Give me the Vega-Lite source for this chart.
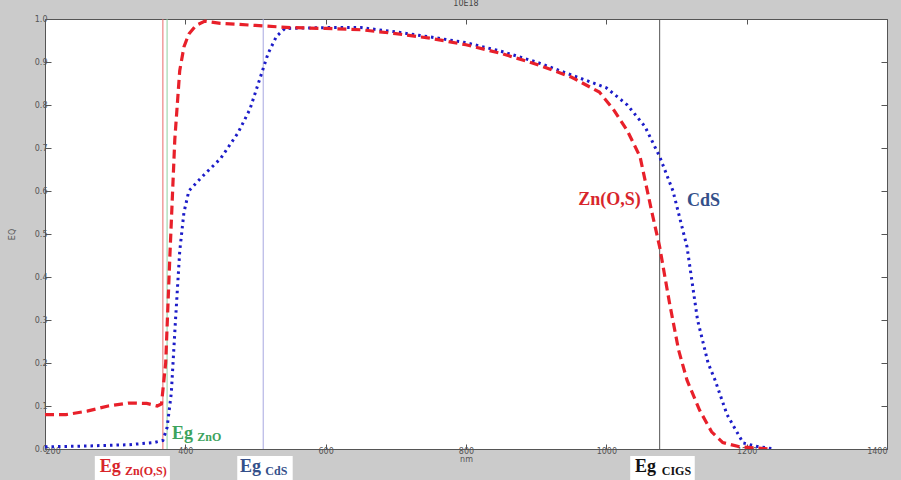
{
  "$schema": "https://vega.github.io/schema/vega-lite/v6.json",
  "width": 842,
  "height": 430,
  "autosize": {"type": "none"},
  "padding": {"left": 45, "top": 19, "right": 14, "bottom": 31},
  "background": "#cbcbcb",
  "title": {"text": "10E18", "fontSize": 8, "fontWeight": "normal", "color": "#444", "font": "DejaVu Sans", "offset": 7},
  "config": {
    "view": {"fill": "white", "stroke": null},
    "axis": {"labelFont": "DejaVu Sans", "labelFontSize": 8, "labelColor": "#555", "domainColor": "#555", "tickColor": "#555", "grid": false, "titleFont": "DejaVu Sans", "titleFontSize": 8, "titleFontWeight": "normal", "titleColor": "#555"}
  },
  "datasets": {
    "curves": [
      {"s": "ZnOS", "nm": 200, "eq": 0.08},
      {"s": "ZnOS", "nm": 230, "eq": 0.08},
      {"s": "ZnOS", "nm": 260, "eq": 0.088},
      {"s": "ZnOS", "nm": 290, "eq": 0.1},
      {"s": "ZnOS", "nm": 320, "eq": 0.107},
      {"s": "ZnOS", "nm": 345, "eq": 0.106},
      {"s": "ZnOS", "nm": 360, "eq": 0.1},
      {"s": "ZnOS", "nm": 366, "eq": 0.105},
      {"s": "ZnOS", "nm": 372, "eq": 0.2},
      {"s": "ZnOS", "nm": 378, "eq": 0.45},
      {"s": "ZnOS", "nm": 385, "eq": 0.72},
      {"s": "ZnOS", "nm": 392, "eq": 0.88},
      {"s": "ZnOS", "nm": 398, "eq": 0.935},
      {"s": "ZnOS", "nm": 405, "eq": 0.965},
      {"s": "ZnOS", "nm": 415, "eq": 0.985},
      {"s": "ZnOS", "nm": 428, "eq": 0.995},
      {"s": "ZnOS", "nm": 450, "eq": 0.99},
      {"s": "ZnOS", "nm": 500, "eq": 0.985},
      {"s": "ZnOS", "nm": 550, "eq": 0.98},
      {"s": "ZnOS", "nm": 600, "eq": 0.978},
      {"s": "ZnOS", "nm": 650, "eq": 0.975},
      {"s": "ZnOS", "nm": 700, "eq": 0.966},
      {"s": "ZnOS", "nm": 750, "eq": 0.955},
      {"s": "ZnOS", "nm": 800, "eq": 0.94},
      {"s": "ZnOS", "nm": 850, "eq": 0.92},
      {"s": "ZnOS", "nm": 900, "eq": 0.895},
      {"s": "ZnOS", "nm": 950, "eq": 0.865},
      {"s": "ZnOS", "nm": 990, "eq": 0.83},
      {"s": "ZnOS", "nm": 1010, "eq": 0.79},
      {"s": "ZnOS", "nm": 1030, "eq": 0.74},
      {"s": "ZnOS", "nm": 1048, "eq": 0.68},
      {"s": "ZnOS", "nm": 1065, "eq": 0.55},
      {"s": "ZnOS", "nm": 1076, "eq": 0.47},
      {"s": "ZnOS", "nm": 1090, "eq": 0.34},
      {"s": "ZnOS", "nm": 1103, "eq": 0.23},
      {"s": "ZnOS", "nm": 1115, "eq": 0.16},
      {"s": "ZnOS", "nm": 1133, "eq": 0.09},
      {"s": "ZnOS", "nm": 1150, "eq": 0.04},
      {"s": "ZnOS", "nm": 1166, "eq": 0.015},
      {"s": "ZnOS", "nm": 1190, "eq": 0.005},
      {"s": "ZnOS", "nm": 1233, "eq": 0.0},
      {"s": "CdS", "nm": 200, "eq": 0.005},
      {"s": "CdS", "nm": 260, "eq": 0.007},
      {"s": "CdS", "nm": 320, "eq": 0.01},
      {"s": "CdS", "nm": 355, "eq": 0.015},
      {"s": "CdS", "nm": 368, "eq": 0.02},
      {"s": "CdS", "nm": 374, "eq": 0.05},
      {"s": "CdS", "nm": 380, "eq": 0.13},
      {"s": "CdS", "nm": 386, "eq": 0.3},
      {"s": "CdS", "nm": 392, "eq": 0.46},
      {"s": "CdS", "nm": 398, "eq": 0.55},
      {"s": "CdS", "nm": 405, "eq": 0.6},
      {"s": "CdS", "nm": 425, "eq": 0.635},
      {"s": "CdS", "nm": 450, "eq": 0.675},
      {"s": "CdS", "nm": 475, "eq": 0.735},
      {"s": "CdS", "nm": 492, "eq": 0.79},
      {"s": "CdS", "nm": 506, "eq": 0.86},
      {"s": "CdS", "nm": 518, "eq": 0.92},
      {"s": "CdS", "nm": 530, "eq": 0.96},
      {"s": "CdS", "nm": 542, "eq": 0.978},
      {"s": "CdS", "nm": 600, "eq": 0.98},
      {"s": "CdS", "nm": 650, "eq": 0.98},
      {"s": "CdS", "nm": 700, "eq": 0.97},
      {"s": "CdS", "nm": 750, "eq": 0.958},
      {"s": "CdS", "nm": 800, "eq": 0.945},
      {"s": "CdS", "nm": 850, "eq": 0.925},
      {"s": "CdS", "nm": 900, "eq": 0.9},
      {"s": "CdS", "nm": 950, "eq": 0.87},
      {"s": "CdS", "nm": 1000, "eq": 0.84},
      {"s": "CdS", "nm": 1030, "eq": 0.8},
      {"s": "CdS", "nm": 1055, "eq": 0.75},
      {"s": "CdS", "nm": 1076, "eq": 0.68},
      {"s": "CdS", "nm": 1095, "eq": 0.6},
      {"s": "CdS", "nm": 1115, "eq": 0.47},
      {"s": "CdS", "nm": 1130, "eq": 0.3},
      {"s": "CdS", "nm": 1145, "eq": 0.2},
      {"s": "CdS", "nm": 1155, "eq": 0.16},
      {"s": "CdS", "nm": 1172, "eq": 0.08},
      {"s": "CdS", "nm": 1195, "eq": 0.014},
      {"s": "CdS", "nm": 1215, "eq": 0.006},
      {"s": "CdS", "nm": 1240, "eq": 0.0}
    ],
    "vlines": [
      {"nm": 368, "line": "ZnOS line"},
      {"nm": 374, "line": "ZnO line"},
      {"nm": 511, "line": "CdS line"},
      {"nm": 1076, "line": "CIGS line"}
    ],
    "boxes": [
      {"x1": 271, "x2": 378, "y1": -0.016, "y2": -0.075},
      {"x1": 474, "x2": 553, "y1": -0.016, "y2": -0.075},
      {"x1": 1034, "x2": 1126, "y1": -0.016, "y2": -0.075}
    ],
    "big": [
      {"nm": 278, "eq": -0.042, "t": "Eg", "c": "ZnOS text"},
      {"nm": 478, "eq": -0.042, "t": "Eg", "c": "CdS text"},
      {"nm": 1041, "eq": -0.042, "t": "Eg", "c": "CIGS text"},
      {"nm": 381, "eq": 0.036, "t": "Eg", "c": "ZnO text"},
      {"nm": 960, "eq": 0.579, "t": "Zn(O,S)", "c": "ZnOS text"},
      {"nm": 1115, "eq": 0.577, "t": "CdS", "c": "CdS text"}
    ],
    "small": [
      {"nm": 314, "eq": -0.051, "t": "Zn(O,S)", "c": "ZnOS text"},
      {"nm": 514, "eq": -0.051, "t": "CdS", "c": "CdS text"},
      {"nm": 1079, "eq": -0.051, "t": "CIGS", "c": "CIGS text"},
      {"nm": 417, "eq": 0.027, "t": "ZnO", "c": "ZnO text"}
    ]
  },
  "layer": [
    {
      "data": {"name": "vlines"},
      "mark": {"type": "rule", "strokeWidth": 1},
      "encoding": {
        "x": {"field": "nm", "type": "quantitative", "scale": {"domain": [200, 1400], "nice": false, "zero": false},
              "axis": {"title": "nm", "values": [200, 400, 600, 800, 1000, 1200, 1400], "tickSize": -5, "labelPadding": 3, "titlePadding": 0, "format": "d"}},
        "color": {"field": "line", "type": "nominal", "legend": null,
                  "scale": {"domain": ["ZnOS line", "ZnO line", "CdS line", "CIGS line", "ZnOS text", "ZnO text", "CdS text", "CIGS text"],
                            "range": ["#e86a6a", "#8fd0a0", "#a8a8e0", "#555555", "#d8252b", "#3da35d", "#34508a", "#111111"]}}
      }
    },
    {
      "data": {"name": "curves"},
      "transform": [{"filter": "datum.s === 'CdS'"}],
      "mark": {"type": "line", "color": "#1c1cc8", "strokeWidth": 3, "strokeDash": [2.5, 4], "clip": true},
      "encoding": {
        "x": {"field": "nm", "type": "quantitative", "axis": null},
        "y": {"field": "eq", "type": "quantitative", "scale": {"domain": [0, 1], "nice": false},
              "axis": {"title": "EQ", "values": [0, 0.1, 0.2, 0.3, 0.4, 0.5, 0.6, 0.7, 0.8, 0.9, 1], "tickSize": -6, "labelPadding": 4, "titlePadding": 18}}
      }
    },
    {
      "data": {"name": "curves"},
      "transform": [{"filter": "datum.s === 'ZnOS'"}],
      "mark": {"type": "line", "color": "#e8202a", "strokeWidth": 3.2, "strokeDash": [9, 5], "clip": true},
      "encoding": {
        "x": {"field": "nm", "type": "quantitative", "axis": null},
        "y": {"field": "eq", "type": "quantitative", "axis": null}
      }
    },
    {
      "data": {"name": "vlines"},
      "mark": {"type": "rule", "opacity": 0},
      "encoding": {
        "x": {"field": "nm", "type": "quantitative", "axis": {"orient": "top", "labels": false, "title": null, "values": [200, 400, 600, 800, 1000, 1200, 1400], "tickSize": -5}},
        "y": {"datum": 0, "type": "quantitative", "axis": {"orient": "right", "labels": false, "title": null, "values": [0, 0.1, 0.2, 0.3, 0.4, 0.5, 0.6, 0.7, 0.8, 0.9, 1], "tickSize": -6}}
      }
    },
    {
      "data": {"name": "boxes"},
      "mark": {"type": "rect", "fill": "white", "clip": false},
      "encoding": {
        "x": {"field": "x1", "type": "quantitative", "axis": null},
        "x2": {"field": "x2"},
        "y": {"field": "y1", "type": "quantitative", "axis": null},
        "y2": {"field": "y2"}
      }
    },
    {
      "data": {"name": "big"},
      "mark": {"type": "text", "align": "left", "baseline": "middle", "font": "Liberation Serif", "fontWeight": "bold", "fontSize": 18, "clip": false},
      "encoding": {
        "x": {"field": "nm", "type": "quantitative", "axis": null},
        "y": {"field": "eq", "type": "quantitative", "axis": null},
        "text": {"field": "t"},
        "color": {"field": "c", "type": "nominal", "legend": null}
      }
    },
    {
      "data": {"name": "small"},
      "mark": {"type": "text", "align": "left", "baseline": "middle", "font": "Liberation Serif", "fontWeight": "bold", "fontSize": 12, "clip": false},
      "encoding": {
        "x": {"field": "nm", "type": "quantitative", "axis": null},
        "y": {"field": "eq", "type": "quantitative", "axis": null},
        "text": {"field": "t"},
        "color": {"field": "c", "type": "nominal", "legend": null}
      }
    }
  ],
  "resolve": {"axis": {"x": "independent", "y": "independent"}}
}
